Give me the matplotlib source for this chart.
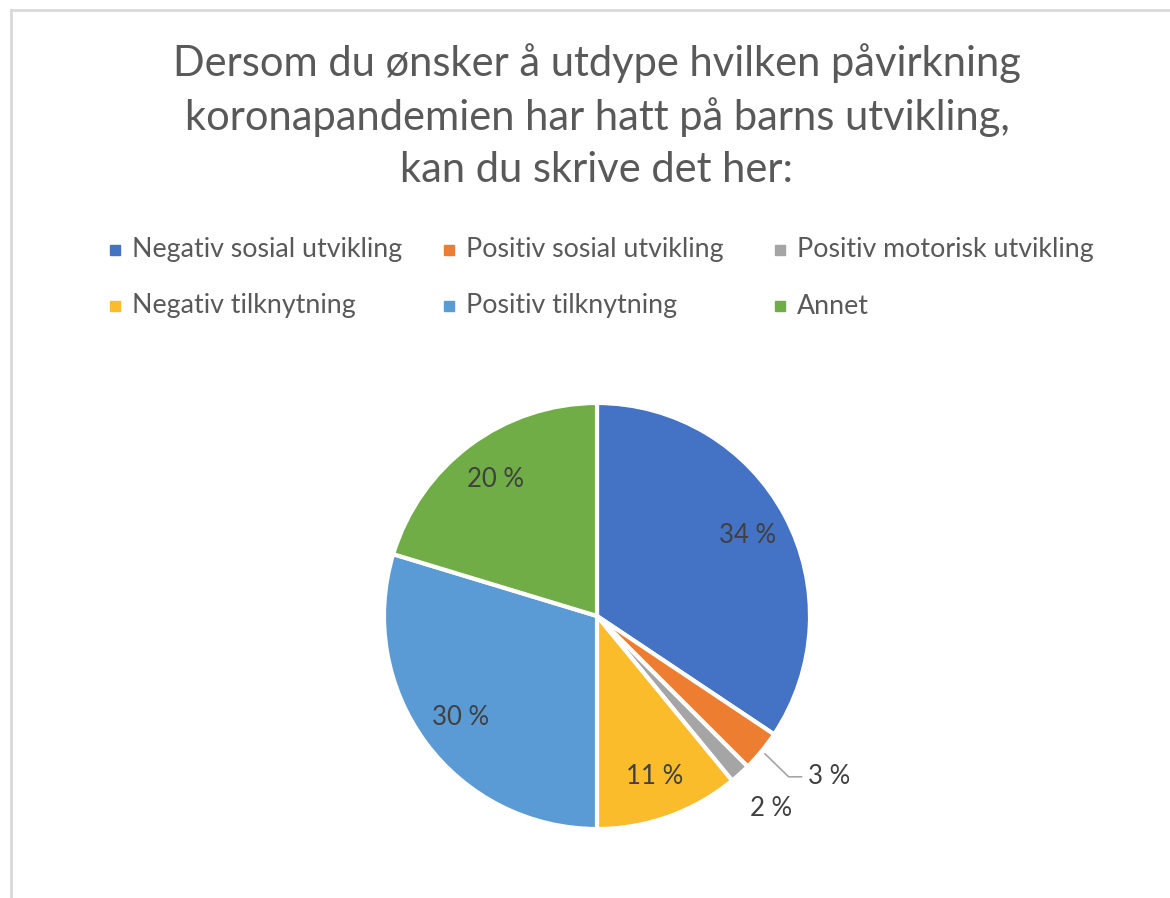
import matplotlib
matplotlib.use("Agg")
import matplotlib.pyplot as plt
import numpy as np
from matplotlib.lines import Line2D
from matplotlib.patches import Rectangle

categories = ["Negativ sosial utvikling", "Positiv sosial utvikling", "Positiv motorisk utvikling",
              "Negativ tilknytning", "Positiv tilknytning", "Annet"]
counts = [22, 2, 1, 7, 19, 13]
pct_labels = ["34 %", "3 %", "2 %", "11 %", "30 %", "20 %"]
colors = ["#4472C4", "#ED7D31", "#A5A5A5", "#FBBC2C", "#5B9BD5", "#70AD47"]
title = "Dersom du ønsker å utdype hvilken påvirkning\nkoronapandemien har hatt på barns utvikling,\nkan du skrive det her:"

plt.rcParams['font.family'] = ['Lato', 'DejaVu Sans']
W, H = 1170, 898
fig = plt.figure(figsize=(W/100, H/100), dpi=100)
fig.patch.set_facecolor("white")

# border lines (top and left)
fig.add_artist(Line2D([11/W, 1], [1-10/H, 1-10/H], color="#D9D9D9", lw=2, transform=fig.transFigure))
fig.add_artist(Line2D([11/W, 11/W], [0, 1-10/H], color="#D9D9D9", lw=2, transform=fig.transFigure))

fig.text(597/W, 1-116/H, title, ha="center", va="center", fontsize=30, color="#595959",
         linespacing=1.45)

# legend
leg_x = [115, 449, 780]
leg_y = [250, 306]
for i, cat in enumerate(categories):
    cx = leg_x[i % 3]
    cy = leg_y[i // 3]
    fig.add_artist(Rectangle(((cx-5)/W, 1-(cy+5)/H), 10/W, 10/H, color=colors[i],
                             transform=fig.transFigure))
    fig.text((cx+17)/W, 1-cy/H, cat, ha="left", va="center", fontsize=19.3, color="#595959")

cx0, cy0, R = 597, 616, 213
ax = fig.add_axes([(cx0-R)/W, (H-cy0-R)/H, 2*R/W, 2*R/H])
wedges, _ = ax.pie(counts, colors=colors, startangle=90, counterclock=False,
                   wedgeprops=dict(edgecolor="white", linewidth=3))
ax.set_xlim(-1, 1)
ax.set_ylim(-1, 1)
ax.set_aspect("auto")
ax.axis("off")

for i, w in enumerate(wedges):
    mid = np.deg2rad((w.theta1 + w.theta2) / 2)
    c, s = np.cos(mid), np.sin(mid)
    if i == 1:
        x0, y0 = 1.02*c, 1.02*s
        ax.plot([x0, 0.90, 0.96], [y0, -0.755, -0.755], color="#A5A5A5", lw=1.2, clip_on=False)
        ax.text(0.99, -0.755, pct_labels[i], ha="left", va="center", fontsize=18.5, color="#404040")
    elif i == 2:
        ax.text(1.22*c, 1.22*s, pct_labels[i], ha="center", va="center", fontsize=18.5, color="#404040")
    else:
        r = 0.8
        ax.text(r*c, r*s, pct_labels[i], ha="center", va="center", fontsize=18.5, color="#404040")

fig.savefig("out.png", dpi=100, facecolor="white")
